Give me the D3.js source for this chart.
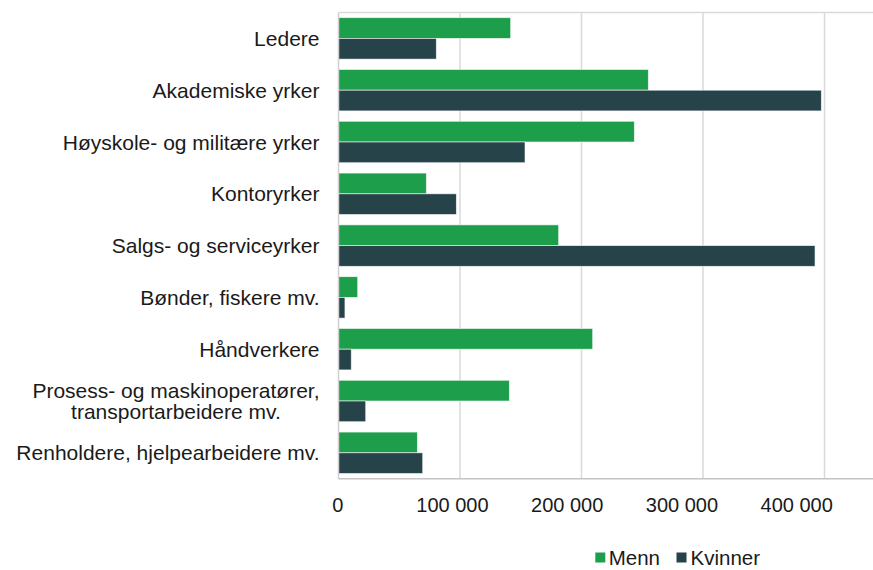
<!DOCTYPE html>
<html>
<head>
<meta charset="utf-8">
<script src="https://cdn.jsdelivr.net/npm/d3@7"></script>
<style>
  html, body { margin: 0; padding: 0; background: #fff; }
  svg { display: block; font-family: "Liberation Sans", Arial, sans-serif; }
</style>
</head>
<body>
<svg id="chart" width="873" height="570"></svg>
<script>
const categories = [
  ["Ledere"],
  ["Akademiske yrker"],
  ["Høyskole- og militære yrker"],
  ["Kontoryrker"],
  ["Salgs- og serviceyrker"],
  ["Bønder, fiskere mv."],
  ["Håndverkere"],
  ["Prosess- og maskinoperatører,", "transportarbeidere mv."],
  ["Renholdere, hjelpearbeidere mv."]
];
const seriesNames = ["Menn", "Kvinner"];
const menn    = [141700, 255000, 243500, 72300, 181200, 15800, 209200, 140600, 64900];
const kvinner = [80500, 397400, 153500, 97000, 392200, 5300, 10500, 22400, 69300];
const seriesColors = ["#1d9e4a", "#27434a"];
const tickValues = [0, 100000, 200000, 300000, 400000];
const tickLabels = ["0", "100 000", "200 000", "300 000", "400 000"];

const svg = d3.select("#chart");
const plot = { left: 338.5, top: 12.5, bottom: 478.7, right: 880 };

const x = d3.scaleLinear().domain([0, 400000]).range([plot.left, 824.5]);
// tick labels in the reference sit on a slightly compressed spacing
const xLabel = d3.scaleLinear().domain([0, 400000]).range([337.7, 796.7]);
const y = d3.scaleBand().domain(d3.range(categories.length))
  .range([plot.top, plot.bottom]).paddingInner(0.2).paddingOuter(0.1);
const ySub = d3.scaleBand().domain(seriesNames).range([0, y.bandwidth()]).padding(0);

// gridlines
svg.append("g").selectAll("line").data(tickValues.slice(1)).join("line")
  .attr("x1", d => x(d)).attr("x2", d => x(d))
  .attr("y1", plot.top).attr("y2", plot.bottom)
  .attr("stroke", "#d9d9d9").attr("stroke-width", 1.5);

// frame top line
svg.append("line").attr("x1", plot.left).attr("x2", plot.right)
  .attr("y1", plot.top).attr("y2", plot.top)
  .attr("stroke", "#d9d9d9").attr("stroke-width", 1.5);

// bars
const data = categories.map((c, i) => ({ i, vals: [menn[i], kvinner[i]] }));
const groups = svg.append("g").selectAll("g").data(data).join("g")
  .attr("transform", d => `translate(0,${y(d.i)})`);
groups.selectAll("rect").data(d => d.vals.map((v, k) => ({ v, k }))).join("rect")
  .attr("x", x(0))
  .attr("y", d => ySub(seriesNames[d.k]))
  .attr("width", d => x(d.v) - x(0))
  .attr("height", ySub.bandwidth())
  .attr("fill", d => seriesColors[d.k])
  .attr("stroke", "#ffffff").attr("stroke-opacity", 0.7).attr("stroke-width", 0.8);

// axis lines
svg.append("line").attr("x1", plot.left).attr("x2", plot.left)
  .attr("y1", plot.top).attr("y2", plot.bottom)
  .attr("stroke", "#d0d0d0").attr("stroke-width", 1.5);
svg.append("line").attr("x1", plot.left).attr("x2", plot.right)
  .attr("y1", plot.bottom).attr("y2", plot.bottom)
  .attr("stroke", "#c4c4c4").attr("stroke-width", 1.5);

// x tick labels
svg.append("g").selectAll("text").data(tickValues).join("text")
  .attr("x", d => xLabel(d)).attr("y", 511.5)
  .attr("text-anchor", "middle")
  .attr("font-size", "20px").attr("fill", "#1a1a1a")
  .text((d, i) => tickLabels[i]);

// category labels
const labelRight = 319.5;
const lineH = 21.7;
categories.forEach((lines, i) => {
  const cy = y(i) + y.bandwidth() / 2;
  const t = svg.append("text")
    .attr("font-size", "21px").attr("fill", "#1a1a1a")
    .attr("text-anchor", "end").attr("x", labelRight);
  const n = lines.length;
  lines.forEach((ln, j) => {
    t.append("tspan").attr("x", labelRight)
      .attr("y", cy + (j - (n - 1) / 2) * lineH)
      .attr("dy", "0.36em").text(ln);
  });
  if (n > 1) {
    const w = t.node().getBBox().width;
    const cx = labelRight - w / 2;
    t.attr("text-anchor", "middle");
    t.selectAll("tspan").attr("x", cx);
  }
});

// legend
const legend = svg.append("g");
const legendItems = [{ sx: 595.3, tx: 608.7 }, { sx: 676.5, tx: 690.5 }];
legendItems.forEach((it, k) => {
  legend.append("rect").attr("x", it.sx).attr("y", 552.5).attr("width", 10).attr("height", 10)
    .attr("fill", seriesColors[k]);
  legend.append("text").attr("x", it.tx).attr("y", 565)
    .attr("font-size", "20.5px").attr("fill", "#1a1a1a").text(seriesNames[k]);
});
</script>
</body>
</html>
